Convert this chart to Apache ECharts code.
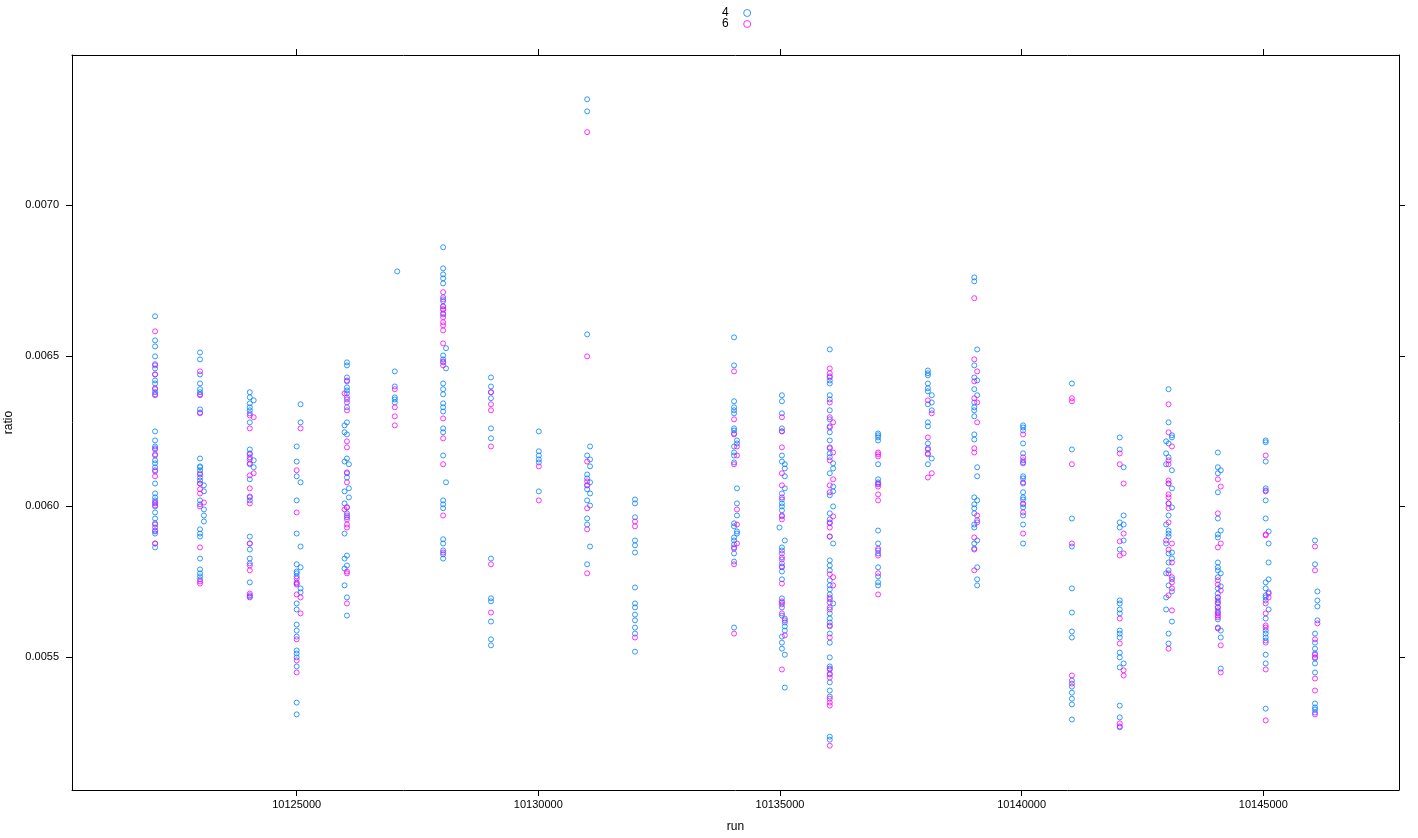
<!DOCTYPE html>
<html><head><meta charset="utf-8">
<script src="https://cdn.jsdelivr.net/npm/echarts@6/dist/echarts.min.js"></script>
<style>html,body{margin:0;padding:0;background:#fff}#c{width:1418px;height:838px}</style>
</head><body><div id="c"></div>
<script>
// group names (legend)
const GROUPS = ['4', '6'];
const COLORS = ['#0080ff', '#ff00ff'];
// axis ticks
const X_TICKS = [10125000, 10130000, 10135000, 10140000, 10145000];
const Y_TICKS = [0.0055, 0.0060, 0.0065, 0.0070];
const X_RANGE = [10120351, 10147808];
const Y_RANGE = [0.005059, 0.007498];

// group "4": [run, [ratio values]]
const RATIO_4 = [
[10122070,[0.006631,0.006551,0.006531,0.006498,0.006472,0.006458,0.006438,0.006418,0.006408,0.006389,0.006379,0.006372,0.006249,0.006219,0.006199,0.006193,0.006173,0.006153,0.006143,0.006130,0.006116,0.006076,0.006043,0.006030,0.006020,0.006010,0.006000,0.005980,0.005960,0.005944,0.005930,0.005917,0.005910,0.005877,0.005864]],
[10123000,[0.006511,0.006488,0.006438,0.006408,0.006389,0.006379,0.006372,0.006322,0.006312,0.006159,0.006133,0.006130,0.006120,0.006110,0.006096,0.006086,0.006076,0.006020,0.006007,0.005924,0.005910,0.005900,0.005827,0.005791,0.005778,0.005768,0.005758]],
[10123080,[0.006070,0.006050,0.005990,0.005970,0.005950]],
[10124030,[0.006379,0.006362,0.006342,0.006329,0.006319,0.006309,0.006279,0.006189,0.006176,0.006163,0.006140,0.006090,0.006030,0.006020,0.005900,0.005877,0.005857,0.005827,0.005811,0.005748,0.005705,0.005698]],
[10124110,[0.006352,0.006153,0.006130]],
[10125000,[0.006199,0.006149,0.006100,0.006020,0.005910,0.005808,0.005784,0.005778,0.005768,0.005744,0.005678,0.005658,0.005608,0.005588,0.005568,0.005522,0.005512,0.005499,0.005469,0.005349,0.005310]],
[10125080,[0.006339,0.006279,0.006080,0.005867,0.005798,0.005728,0.005715]],
[10126040,[0.006478,0.006468,0.006428,0.006415,0.006395,0.006385,0.006375,0.006355,0.006329,0.006279,0.006239,0.006159,0.006110,0.006096,0.005997,0.005977,0.005964,0.005837,0.005804,0.005698,0.005638]],
[10125990,[0.006269,0.006246,0.006149,0.006050,0.006010,0.005910,0.005827,0.005794,0.005738]],
[10126080,[0.006140,0.006060,0.006030]],
[10127030,[0.006448,0.006398,0.006362,0.006355,0.006345]],
[10127080,[0.006780]],
[10128030,[0.006860,0.006790,0.006770,0.006757,0.006740,0.006694,0.006681,0.006664,0.006654,0.006637,0.006501,0.006488,0.006478,0.006408,0.006389,0.006372,0.006342,0.006329,0.006315,0.006259,0.006246,0.006169,0.006020,0.006007,0.005994,0.005891,0.005877,0.005854,0.005841,0.005827]],
[10128090,[0.006525,0.006458,0.006080]],
[10129020,[0.006428,0.006398,0.006379,0.006359,0.006259,0.006226,0.005827,0.005695,0.005685,0.005618,0.005559,0.005539]],
[10130010,[0.006249,0.006183,0.006169,0.006156,0.006146,0.006050]],
[10131010,[0.007351,0.007311,0.006571,0.006169,0.006106,0.006093,0.006070,0.006057,0.006020,0.005960,0.005940,0.005808]],
[10131070,[0.006199,0.006156,0.006133,0.006080,0.006043,0.006003,0.005867]],
[10132000,[0.006023,0.006010,0.005964,0.005887,0.005871,0.005847,0.005731,0.005678,0.005665,0.005641,0.005622,0.005598,0.005578,0.005518]],
[10134050,[0.006561,0.006468,0.006349,0.006329,0.006319,0.006309,0.006259,0.006252,0.006242,0.006199,0.006179,0.006169,0.006146,0.005944,0.005934,0.005897,0.005887,0.005874,0.005864,0.005844,0.005817,0.005598]],
[10134110,[0.006219,0.006209,0.006060,0.006010,0.005970,0.005917,0.005910]],
[10135040,[0.006369,0.006349,0.006309,0.006259,0.006249,0.006169,0.006149,0.006043,0.006023,0.006010,0.006000,0.005987,0.005967,0.005864,0.005854,0.005831,0.005811,0.005798,0.005784,0.005758,0.005695,0.005681,0.005665,0.005638,0.005568,0.005548,0.005528]],
[10135100,[0.006140,0.006126,0.006100,0.006060,0.005887,0.005628,0.005615,0.005602,0.005588,0.005508,0.005399]],
[10134990,[0.005930]],
[10136030,[0.006521,0.006432,0.006418,0.006408,0.006369,0.006355,0.006319,0.006289,0.006266,0.006246,0.006219,0.006193,0.006176,0.006163,0.006110,0.006037,0.005977,0.005957,0.005944,0.005900,0.005821,0.005804,0.005788,0.005755,0.005738,0.005725,0.005708,0.005692,0.005665,0.005645,0.005628,0.005615,0.005602,0.005578,0.005548,0.005499,0.005469,0.005462,0.005442,0.005416,0.005389,0.005369,0.005236,0.005226]],
[10136100,[0.006143,0.006126,0.006066,0.006050,0.006000,0.005877,0.005678]],
[10137030,[0.006242,0.006236,0.006229,0.006219,0.006140,0.006090,0.006080,0.006073,0.005920,0.005877,0.005854,0.005844,0.005798,0.005768,0.005748,0.005738]],
[10138060,[0.006451,0.006442,0.006435,0.006408,0.006392,0.006382,0.006339,0.006279,0.006266,0.006209,0.006193,0.006176,0.006140]],
[10138140,[0.006369,0.006345,0.006319,0.006159]],
[10139020,[0.006760,0.006747,0.006468,0.006428,0.006389,0.006345,0.006329,0.006319,0.006299,0.006239,0.006222,0.006030,0.006007,0.005994,0.005977,0.005940,0.005930,0.005877,0.005860]],
[10139080,[0.006521,0.006418,0.006369,0.006130,0.006100,0.006020,0.005954,0.005887,0.005798,0.005758,0.005738]],
[10140030,[0.006269,0.006262,0.006252,0.006209,0.006176,0.006153,0.006143,0.006100,0.006093,0.006076,0.006047,0.006030,0.006023,0.006007,0.005997,0.005970,0.005940,0.005877]],
[10141040,[0.006408,0.006189,0.005960,0.005867,0.005728,0.005648,0.005585,0.005565,0.005422,0.005402,0.005382,0.005362,0.005343,0.005293]],
[10142030,[0.006229,0.006189,0.005947,0.005930,0.005857,0.005688,0.005678,0.005658,0.005645,0.005588,0.005578,0.005565,0.005515,0.005499,0.005466,0.005339,0.005300,0.005267]],
[10142110,[0.006130,0.005970,0.005940,0.005887,0.005479]],
[10143040,[0.006389,0.006279,0.006209,0.006163,0.006076,0.006010,0.005970,0.005920,0.005910,0.005900,0.005844,0.005814,0.005788,0.005738,0.005578,0.005545]],
[10143110,[0.006236,0.006229,0.006120,0.006060,0.005997,0.005847,0.005827,0.005758,0.005718,0.005618]],
[10142990,[0.006216,0.006176,0.006140,0.005940,0.005877,0.005778,0.005698,0.005658]],
[10144060,[0.006179,0.006130,0.006110,0.006047,0.005960,0.005907,0.005897,0.005814,0.005798,0.005788,0.005765,0.005728,0.005711,0.005698,0.005688,0.005678,0.005665,0.005655,0.005645,0.005625,0.005598]],
[10144120,[0.006120,0.005920,0.005778,0.005735,0.005588,0.005565,0.005462]],
[10145050,[0.006219,0.006213,0.006149,0.006060,0.006053,0.006020,0.005960,0.005748,0.005728,0.005705,0.005698,0.005688,0.005628,0.005588,0.005578,0.005565,0.005555,0.005508,0.005479,0.005329]],
[10145110,[0.005917,0.005877,0.005814,0.005758,0.005715,0.005658]],
[10146070,[0.005887,0.005808,0.005578,0.005548,0.005528,0.005512,0.005496,0.005479,0.005449,0.005346,0.005333,0.005326,0.005316]],
[10146120,[0.005718,0.005688,0.005668,0.005622]]
];

// group "6": [run, [ratio values]]
const RATIO_6 = [
[10122070,[0.006581,0.006468,0.006438,0.006392,0.006369,0.006189,0.006169,0.006120,0.006100,0.006013,0.006003,0.005940,0.005920,0.005877]],
[10123000,[0.006448,0.006369,0.006309,0.006106,0.006076,0.006057,0.006043,0.006000,0.005864,0.005751,0.005744]],
[10123080,[0.006013]],
[10124030,[0.006302,0.006259,0.006173,0.006156,0.006143,0.006103,0.006060,0.006033,0.006010,0.005877,0.005804,0.005788,0.005711,0.005701]],
[10124110,[0.006296,0.006110]],
[10125000,[0.006120,0.005980,0.005761,0.005748,0.005741,0.005708,0.005559,0.005489,0.005449]],
[10125080,[0.006259,0.005698,0.005645]],
[10126040,[0.006418,0.006362,0.006345,0.006319,0.006216,0.006196,0.006113,0.006080,0.005997,0.005970,0.005957,0.005940,0.005930,0.005784,0.005778,0.005678]],
[10125990,[0.006375,0.005990]],
[10127030,[0.006389,0.006329,0.006299,0.006269]],
[10128030,[0.006711,0.006687,0.006664,0.006654,0.006641,0.006628,0.006611,0.006601,0.006584,0.006541,0.006481,0.006468,0.006292,0.006226,0.006140,0.005970,0.005847]],
[10129020,[0.006379,0.006339,0.006319,0.006199,0.005808,0.005648]],
[10130010,[0.006133,0.006020]],
[10131010,[0.007242,0.006498,0.006149,0.006083,0.006070,0.005994,0.005924,0.005778]],
[10132000,[0.005950,0.005934,0.005565]],
[10134050,[0.006448,0.006289,0.006239,0.006140,0.005860,0.005808,0.005578]],
[10134110,[0.006199,0.006169,0.005990,0.005940,0.005877]],
[10135040,[0.006296,0.006249,0.006196,0.006110,0.006070,0.006030,0.005970,0.005957,0.005844,0.005824,0.005801,0.005744,0.005685,0.005675,0.005645,0.005459]],
[10135100,[0.005622,0.005572]],
[10136030,[0.006458,0.006442,0.006428,0.006345,0.006296,0.006262,0.006196,0.006153,0.006070,0.006047,0.005947,0.005930,0.005900,0.005775,0.005698,0.005681,0.005658,0.005605,0.005565,0.005459,0.005445,0.005432,0.005362,0.005349,0.005339,0.005206]],
[10136100,[0.006279,0.006179,0.006090,0.005967,0.005765,0.005738]],
[10137030,[0.006179,0.006173,0.006166,0.006076,0.006066,0.006040,0.006020,0.005860,0.005837,0.005778,0.005708]],
[10138060,[0.006352,0.006229,0.006189,0.006173,0.006096]],
[10138140,[0.006309,0.006110]],
[10139020,[0.006691,0.006488,0.006415,0.006359,0.006193,0.006179,0.005897,0.005857,0.005788]],
[10139080,[0.006448,0.006345,0.006279,0.005970,0.005947]],
[10140030,[0.006239,0.006163,0.006146,0.006080,0.006010,0.005980,0.005910]],
[10141040,[0.006359,0.006349,0.006140,0.005877,0.005439,0.005412]],
[10142030,[0.006176,0.006140,0.005884,0.005837,0.005628,0.005545,0.005280,0.005270]],
[10142110,[0.006076,0.005910,0.005844,0.005456,0.005439]],
[10143040,[0.006339,0.006246,0.006153,0.006140,0.006086,0.006076,0.006040,0.006030,0.006010,0.005994,0.005947,0.005857,0.005778,0.005705,0.005528]],
[10143110,[0.006199,0.005877,0.005814,0.005765,0.005748,0.005728,0.005655]],
[10142990,[0.005887]],
[10144060,[0.006090,0.005977,0.005864,0.005755,0.005741,0.005698,0.005681,0.005665,0.005648,0.005638,0.005632,0.005595]],
[10144120,[0.006066,0.005877,0.005721,0.005539,0.005449]],
[10145050,[0.006169,0.006050,0.005907,0.005904,0.005678,0.005645,0.005605,0.005598,0.005548,0.005459,0.005290]],
[10145110,[0.005711,0.005698]],
[10146070,[0.005867,0.005788,0.005559,0.005508,0.005499,0.005429,0.005389,0.005310]],
[10146120,[0.005612]]
];

function toPoints(groupRows) {
  const out = [];
  groupRows.forEach(([run, vals]) => vals.forEach(v => out.push([run, v])));
  return out;
}

const FONT = "'Liberation Sans', Arial, Helvetica, sans-serif";
const chart = echarts.init(document.getElementById('c'), null, {renderer: 'canvas'});

const lineStyle = {color: '#000', width: 1};
const baseX = {
  type: 'value', min: X_RANGE[0], max: X_RANGE[1],
  axisLine: {show: true, onZero: false, lineStyle},
  splitLine: {show: false},
  axisTick: {show: true, inside: false, length: 6, lineStyle, customValues: X_TICKS},
};
const baseY = {
  type: 'value', min: Y_RANGE[0], max: Y_RANGE[1],
  axisLine: {show: true, onZero: false, lineStyle},
  splitLine: {show: false},
  axisTick: {show: true, inside: false, length: 6, lineStyle, customValues: Y_TICKS},
};

const option = {
  animation: false,
  backgroundColor: '#fff',
  grid: {left: 72, right: 19, top: 55, bottom: 48, containLabel: false, outerBoundsMode: 'none'},
  legend: {
    show: true, orient: 'vertical', left: 717, top: 2, align: 'right',
    itemGap: -1, itemWidth: 27, itemHeight: 7, icon: 'circle',
    selectedMode: false,
    textStyle: {fontFamily: FONT, fontSize: 12, color: '#000', lineHeight: 12, padding: 0},
    data: GROUPS.map((g, i) => ({name: g, itemStyle: {color: 'rgba(0,0,0,0)', borderColor: COLORS[i], borderWidth: 1}}))
  },
  xAxis: [
    Object.assign({}, baseX, {
      position: 'bottom', name: 'run', nameLocation: 'middle', nameGap: 31,
      nameTextStyle: {fontFamily: FONT, fontSize: 12, color: '#000'},
      axisLabel: {show: true, margin: 9, fontFamily: FONT, fontSize: 11, color: '#000', customValues: X_TICKS, formatter: v => String(Math.round(v))}
    }),
    Object.assign({}, baseX, {position: 'top', axisLabel: {show: false}})
  ],
  yAxis: [
    Object.assign({}, baseY, {
      position: 'left', name: 'ratio', nameLocation: 'middle', nameGap: 53,
      nameTextStyle: {fontFamily: FONT, fontSize: 12, color: '#000'},
      axisLabel: {show: true, margin: 13, fontFamily: FONT, fontSize: 11, color: '#000', customValues: Y_TICKS, formatter: v => v.toFixed(4)}
    }),
    Object.assign({}, baseY, {position: 'right', axisLabel: {show: false}})
  ],
  series: [RATIO_4, RATIO_6].map((rows, i) => ({
    name: GROUPS[i], type: 'scatter', xAxisIndex: 0, yAxisIndex: 0,
    symbol: 'circle', symbolSize: 5, silent: true,
    itemStyle: {color: 'rgba(0,0,0,0)', borderColor: COLORS[i], borderWidth: 1},
    data: toPoints(rows)
  }))
};
chart.setOption(option);
</script>
</body></html>
